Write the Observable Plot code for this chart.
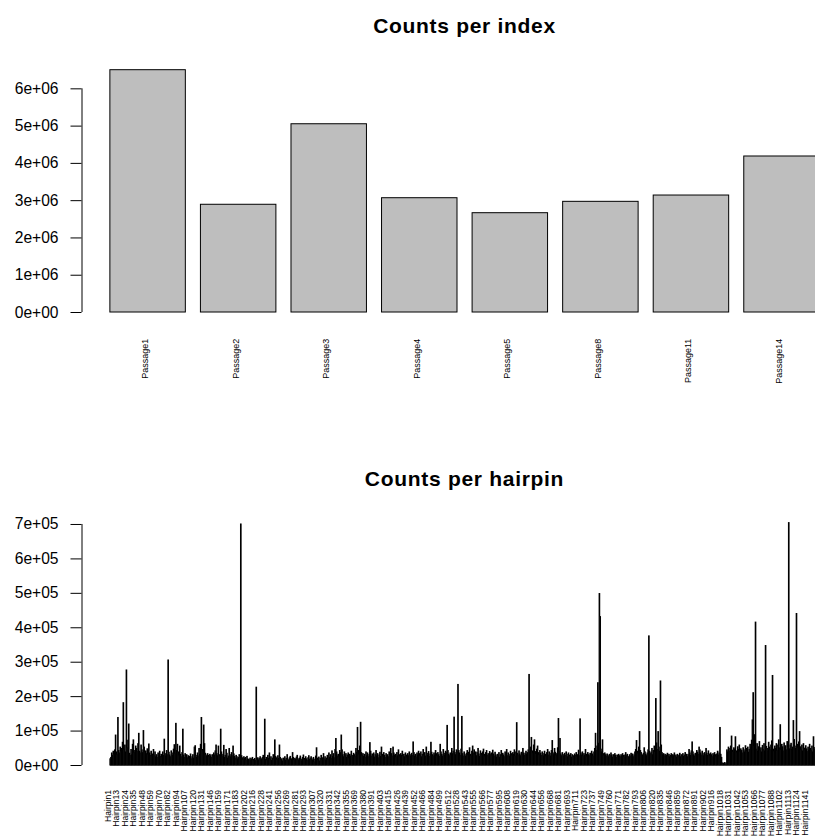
<!DOCTYPE html>
<html><head><meta charset="utf-8">
<script src="https://cdn.jsdelivr.net/npm/d3@7"></script>
<script src="https://cdn.jsdelivr.net/npm/@observablehq/plot@0.6"></script>
<style>
html,body{margin:0;padding:0;background:#fff;overflow:hidden;}
#wrap{position:relative;width:815px;height:838px;overflow:hidden;background:#fff;font-family:"Liberation Sans",Arial,Helvetica,sans-serif;}
.title{position:absolute;left:0;width:929px;text-align:center;font-weight:bold;font-size:21px;letter-spacing:0.7px;line-height:21px;color:#000;white-space:nowrap;}
#wrap svg{position:absolute;left:0;}
</style></head><body><div id="wrap"></div>
<script>
// ---- Data: counts per index ----
const indexNames = ["Passage1","Passage2","Passage3","Passage4","Passage5","Passage8","Passage11","Passage14"];
const indexCounts = [6500000, 2890000, 5050000, 3066000, 2664000, 2969000, 3138000, 4185000];
const indexYTicks = [0, 1e6, 2e6, 3e6, 4e6, 5e6, 6e6];

// ---- Data: counts per hairpin (thousands), one value per bar, in order ----
const hairpinCountsK = [
18,22,35,28,40,31,44,87,38,30,138,42,35,52,40,48,66,181,45,58,
38,276,50,72,119,34,28,45,30,60,73,36,42,55,48,39,62,92,40,35,
58,44,36,100,52,38,41,33,47,30,61,35,28,40,26,32,45,29,38,24,
30,22,35,27,40,25,31,23,38,28,75,33,26,42,30,305,37,29,24,41,
35,28,46,59,33,121,42,60,38,27,55,31,24,36,104,29,22,33,26,30,
21,27,19,25,32,18,24,30,20,52,56,28,22,35,26,48,31,60,138,45,
40,116,62,34,29,25,33,28,24,31,27,22,30,26,35,29,41,58,33,27,
55,30,24,104,38,26,31,57,22,28,45,34,20,26,48,30,24,36,27,55,
32,25,20,28,24,18,22,30,26,700,27,21,16,24,19,22,14,25,18,16,
15,20,13,18,22,16,12,19,14,226,17,21,15,19,24,13,18,22,28,20,
133,16,22,14,28,19,35,17,24,13,20,30,18,73,25,21,16,27,19,58,
22,15,18,12,20,16,24,14,19,30,17,13,21,25,15,18,36,22,14,19,
16,23,28,18,14,20,26,17,12,22,29,19,15,24,18,13,21,27,16,20,
24,18,14,22,9,17,26,50,20,15,23,12,19,28,16,21,33,18,24,15,
20,28,17,35,22,30,19,41,25,33,21,45,77,38,26,31,24,42,36,87,
44,30,24,38,27,33,22,29,35,20,31,26,40,28,23,34,30,25,48,37,
109,42,30,55,124,36,28,33,25,31,22,38,27,35,24,30,65,40,26,32,
28,35,23,30,42,26,33,21,29,37,25,52,31,24,36,28,22,33,27,30,
24,38,29,48,33,26,52,35,28,31,23,36,27,44,30,25,33,28,40,26,
31,24,35,29,22,33,27,38,30,25,34,28,67,36,26,31,23,35,29,40,
33,27,38,24,31,45,29,36,26,52,34,28,39,25,32,66,37,30,26,35,
29,42,33,27,36,30,25,60,38,31,26,45,34,28,40,36,115,42,31,27,
35,29,48,33,40,139,36,30,44,38,234,42,35,28,46,141,33,26,38,30,
25,34,42,29,37,50,31,26,40,55,35,44,30,38,27,36,48,32,25,41,
34,29,38,46,31,25,36,42,28,33,24,39,30,35,27,43,32,26,37,29,
23,31,27,36,22,30,42,26,34,29,24,38,31,45,27,35,30,25,40,33,
28,36,31,44,26,38,123,34,29,41,32,27,37,30,48,35,28,33,40,31,
36,44,263,38,52,80,41,35,58,73,39,32,46,55,36,30,42,34,28,38,
33,27,40,31,25,36,45,29,38,34,26,42,71,35,30,48,37,28,33,50,
135,40,77,32,27,36,30,25,34,28,38,31,24,35,29,26,33,23,30,27,
25,32,28,36,24,30,43,27,134,35,29,38,26,33,28,45,31,24,36,30,
27,34,29,40,32,26,38,48,92,42,55,239,63,498,431,46,38,73,33,28,
35,30,26,32,28,24,31,27,35,29,23,30,26,33,28,22,29,25,31,27,
24,30,26,33,28,23,29,36,27,31,25,22,30,26,34,28,32,24,29,38,
45,71,40,33,52,97,42,36,30,28,34,50,38,31,27,35,44,375,40,33,
36,48,30,42,55,38,193,64,45,97,52,40,244,58,36,30,33,27,31,25,
29,34,26,31,24,28,33,22,30,27,35,25,29,23,31,26,28,34,24,30,
27,33,25,29,36,28,31,24,30,45,35,28,41,67,38,30,26,34,29,42,
37,31,52,44,35,29,40,33,27,36,30,48,34,28,41,32,26,35,30,24,
33,28,36,30,25,32,40,29,35,109,31,22,6,4,5,7,3,6,44,38,
52,40,48,55,84,43,38,50,46,82,41,36,53,45,58,39,47,42,35,50,
44,38,56,48,41,52,37,45,60,49,72,131,210,55,88,415,46,62,40,53,
68,43,50,38,57,45,62,41,347,54,48,39,66,52,44,58,70,260,46,40,
55,48,62,42,58,73,50,117,45,60,53,41,64,49,56,44,68,52,704,47,
58,63,45,52,129,74,55,48,440,60,50,67,97,53,45,58,41,62,49,44,
56,47,39,52,44,60,48,42,55,38,82,46,51,40,57,43,36,49
];
// hairpin names shown on the axis (every 11th bar gets a label)
const hairpinLabelStep = 11;
const hairpinLabelNumbers = [1,13,24,35,48,59,70,82,94,107,120,131,146,159,171,183,202,216,228,241,256,269,281,293,307,320,331,342,355,369,380,391,403,415,426,439,452,466,484,499,512,528,543,555,566,577,595,608,619,630,644,656,668,681,693,711,723,737,749,760,771,782,793,806,820,835,846,859,872,891,902,916,1018,1031,1042,1053,1066,1077,1088,1102,1113,1124,1141];
const hairpinLabels = hairpinLabelNumbers.map(n => "Hairpin" + n);
const hairpinYTicks = [0, 1e5, 2e5, 3e5, 4e5, 5e5, 6e5, 7e5];

// ---- helpers ----
function rSci(d) {
  const [m, e] = d.toExponential().split("e");
  const s = e[0] === "-" ? "-" : "+";
  return m + "e" + s + String(Math.abs(+e)).padStart(2, "0");
}
const FONT = '"Liberation Sans", Arial, Helvetica, sans-serif';

function barPanel({values, labelIdx, labelNames, yTicks, height, marginTop, marginBottom, labelSize, labelGap}) {
  const n = values.length;
  const bars = values.map((v, i) => ({x1: 0.2 + 1.2 * i, x2: 1.2 + 1.2 * i, v}));
  const xl = [0.2, 1.2 * n];
  const ext = 0.04 * (xl[1] - xl[0]);
  const xDomain = [xl[0] - ext, xl[1] + ext];
  const vmax = d3.max(values);
  const yDomain = [-0.04 * vmax, 1.04 * vmax];
  const labels = labelIdx.map((i, k) => ({x: 0.7 + 1.2 * i, name: labelNames[k]}));
  return Plot.plot({
    width: 880, height,
    marginLeft: 81.5, marginRight: 880 - 847.6, marginTop, marginBottom,
    x: {type: "linear", domain: xDomain, axis: null},
    y: {type: "linear", domain: yDomain, axis: null},
    style: {maxWidth: "none", fontFamily: FONT, background: "white", color: "black"},
    marks: [
      Plot.rect(bars, {x1: "x1", x2: "x2", y1: 0, y2: "v", fill: "#bebebe", stroke: "black", strokeWidth: 1}),
      Plot.ruleX([xDomain[0]], {y1: d3.min(yTicks), y2: d3.max(yTicks), stroke: "black", strokeWidth: 1}),
      Plot.axisY(yTicks, {tickSize: 11, tickPadding: 12.5, tickFormat: rSci, fontSize: 15.6, label: null, stroke: "black", fill: "black"}),
      Plot.text(labels, {x: "x", text: "name", frameAnchor: "bottom", rotate: -90, textAnchor: "end", dy: labelGap, fontSize: labelSize, fill: "black"})
    ]
  });
}

const wrap = document.getElementById("wrap");

// Panel 1: counts per index
const t1 = document.createElement("div");
t1.className = "title"; t1.style.top = "14.7px"; t1.textContent = "Counts per index";
const p1 = barPanel({
  values: indexCounts,
  labelIdx: indexNames.map((_, i) => i),
  labelNames: indexNames,
  yTicks: indexYTicks,
  height: 454, marginTop: 60, marginBottom: 454 - 321.7,
  labelSize: 9, labelGap: 16.5
});
p1.style.top = "0px";

// Panel 2: counts per hairpin
const hairpinCounts = hairpinCountsK.map(k => k * 1000);
const t2 = document.createElement("div");
t2.className = "title"; t2.style.top = "468.2px"; t2.textContent = "Counts per hairpin";
const p2 = barPanel({
  values: hairpinCounts,
  labelIdx: hairpinLabels.map((_, j) => j * hairpinLabelStep),
  labelNames: hairpinLabels,
  yTicks: hairpinYTicks,
  height: 384, marginTop: 512.9 - 454, marginBottom: 384 - (774.7 - 454),
  labelSize: 8.6, labelGap: 14.8
});
p2.style.top = "454px";

wrap.append(p1, p2, t1, t2);
</script>
</body></html>
